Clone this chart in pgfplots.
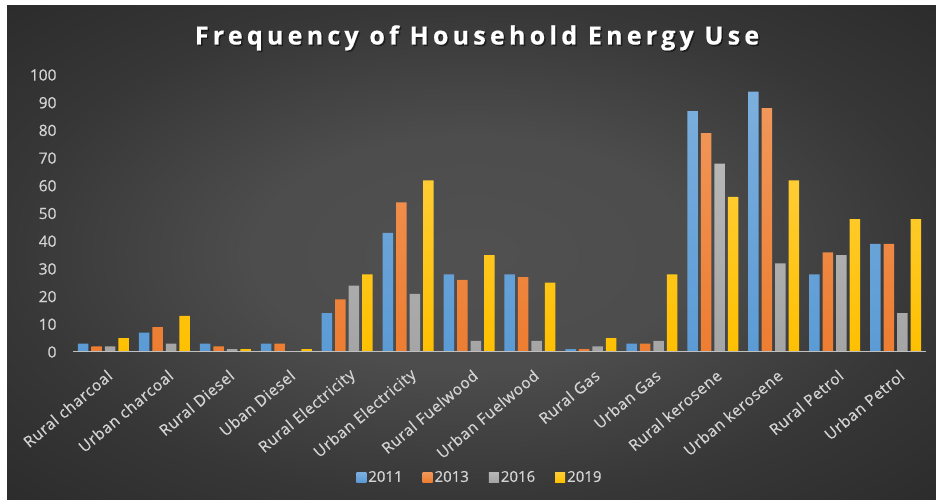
\documentclass[border=0pt]{standalone}
\usepackage{fontspec}
\setmainfont{Open Sans}
\newfontfamily\titlefont[LetterSpace=17,FakeBold=0.6]{Open Sans}
\newfontfamily\lblfont[FakeBold=0.45]{Open Sans}
\newfontfamily\catfont[FakeBold=0.45,LetterSpace=4]{Open Sans}
\usepackage{pgfplots}
\usepackage{pgfplotstable}
\pgfplotsset{compat=1.18}

\definecolor{c2011}{HTML}{5B9BD5}
\definecolor{c2013}{HTML}{ED7D31}
\definecolor{c2016}{HTML}{A5A5A5}
\definecolor{c2019}{HTML}{FFC000}
\definecolor{lbl}{HTML}{D4D4D4}
\definecolor{baseln}{HTML}{BFBFBF}

\pgfdeclareradialshading{chartbg}{\pgfpoint{0bp}{0bp}}{%
  rgb(0bp)=(0.315,0.315,0.315);
  rgb(12bp)=(0.300,0.300,0.300);
  rgb(25bp)=(0.215,0.215,0.215);
  rgb(36bp)=(0.170,0.170,0.170);
  rgb(50bp)=(0.170,0.170,0.170)}

% frequency of each energy source by survey year
\pgfplotstableread{
idx y2011 y2013 y2016 y2019
0   3  2  2  5
1   7  9  3  13
2   3  2  1  1
3   3  3  0  1
4   14 19 24 28
5   43 54 21 62
6   28 26 4  35
7   28 27 4  25
8   1  1  2  5
9   3  3  4  28
10  87 79 68 56
11  94 88 32 62
12  28 36 35 48
13  39 39 14 48
}\energydata

\begin{document}
\begin{tikzpicture}
  % page and chart background
  \fill[white] (0pt,0pt) rectangle (936pt,500pt);
  \shade[shading=chartbg] (7pt,0pt) rectangle (936pt,494pt);

  % title with a soft drop shadow
  \node[anchor=base, text=black, opacity=0.45,
        font=\titlefont\bfseries\fontsize{25}{29}\selectfont]
        at (478.5pt,454pt) {Frequency of Household Energy Use};
  \node[anchor=base, text=white,
        font=\titlefont\bfseries\fontsize{25}{29}\selectfont]
        at (477pt,455.5pt) {Frequency of Household Energy Use};

  \begin{axis}[
    at={(73pt,148pt)}, anchor=south west,
    scale only axis, width=853pt, height=277pt,
    xmin=-0.5, xmax=13.5, ymin=0, ymax=100,
    ybar=3pt, bar width=10.5pt,
    xtick={0,...,13},
    xticklabels={Rural charcoal, Urban charcoal, Rural Diesel, Uban Diesel,
      Rural Electricity, Urban Electricity, Rural Fuelwood, Urban Fuelwood,
      Rural Gas, Urban Gas, Rural kerosene, Urban kerosene, Rural Petrol,
      Urban Petrol},
    ytick={0,10,...,100},
    major tick length=0pt,
    axis line style={draw=none},
    /pgf/number format/assume math mode=true,
    tick label style={font=\lblfont\fontsize{15.5}{18}\selectfont, text=lbl},
    xticklabel style={font=\catfont\fontsize{15.5}{18}\selectfont,
      xshift=9pt, yshift=-19pt, rotate=40, anchor=east},
    yticklabel style={xshift=-13pt},
    clip=false,
    legend columns=4,
    legend style={at={(0.477,-0.452)}, anchor=center, draw=none, fill=none,
      text=lbl, font=\lblfont\fontsize{15}{18}\selectfont,
      /tikz/every even column/.append style={column sep=18pt}},
    legend image code/.code={\fill[#1] (0pt,-5pt) rectangle (10pt,5pt);},
  ]
    \addplot[draw=none, top color=c2011!80!white, bottom color=c2011]
      table[x=idx, y=y2011] {\energydata};
    \addplot[draw=none, top color=c2013!80!white, bottom color=c2013]
      table[x=idx, y=y2013] {\energydata};
    \addplot[draw=none, top color=c2016!80!white, bottom color=c2016]
      table[x=idx, y=y2016] {\energydata};
    \addplot[draw=none, top color=c2019!80!white, bottom color=c2019]
      table[x=idx, y=y2019] {\energydata};
    \legend{2011, 2013, 2016, 2019}
    \draw[baseln, line width=1pt] (axis cs:-0.5,0) -- (axis cs:13.5,0);
  \end{axis}
\end{tikzpicture}
\end{document}
